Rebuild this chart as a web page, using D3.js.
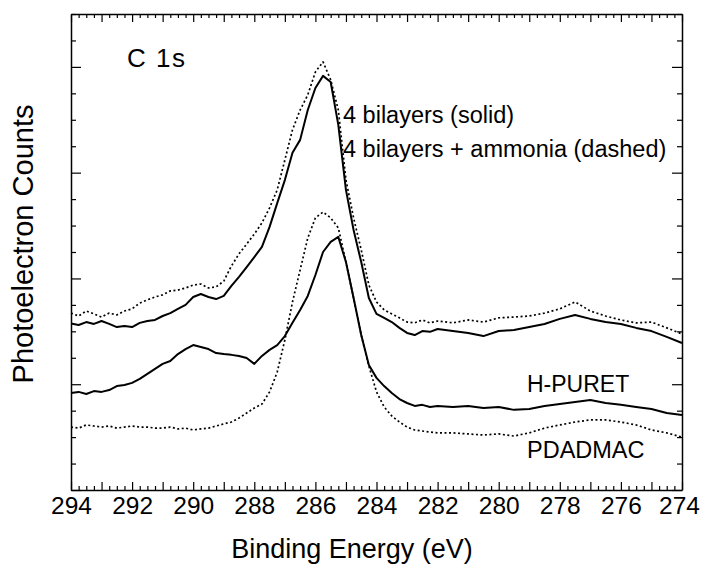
<!DOCTYPE html>
<html>
<head>
<meta charset="utf-8">
<script src="https://cdn.jsdelivr.net/npm/d3@7"></script>
<style>
  body { margin: 0; background: #fff; }
  svg text { font-family: "Liberation Sans", Arial, Helvetica, sans-serif; fill: #000; }
</style>
</head>
<body>
<div id="chart"></div>
<script>
// binding energy grid (eV)
const energy = [
    294, 293.75, 293.5, 293.25, 293, 292.75, 292.5, 292.25, 292, 291.75,
    291.5, 291.25, 291, 290.75, 290.5, 290.25, 290, 289.75, 289.5, 289.25,
    289, 288.75, 288.5, 288.25, 288, 287.75, 287.5, 287.25, 287, 286.75,
    286.5, 286.25, 286, 285.75, 285.5, 285.25, 285, 284.75, 284.5, 284.25,
    284, 283.75, 283.5, 283.25, 283, 282.75, 282.5, 282.25, 282, 281.5,
    281, 280.5, 280, 279.5, 279, 278.5, 278, 277.5, 277, 276.5,
    276, 275.5, 275, 274.5, 274
];

// 4 bilayers (solid)
const bilayers = [
    6.30, 6.24, 6.35, 6.28, 6.39, 6.28, 6.16, 6.20, 6.16, 6.32,
    6.39, 6.43, 6.58, 6.69, 6.85, 7.00, 7.30, 7.41, 7.30, 7.22,
    7.34, 7.72, 8.06, 8.43, 8.81, 9.19, 9.95, 10.85, 11.72, 12.75,
    13.24, 14.37, 15.20, 15.66, 15.43, 13.81, 11.35, 9.83, 8.62, 7.26,
    6.66, 6.51, 6.35, 6.13, 5.94, 5.86, 6.01, 5.98, 6.09, 6.01,
    5.94, 5.82, 6.01, 6.05, 6.16, 6.28, 6.47, 6.62, 6.47, 6.35,
    6.28, 6.13, 6.01, 5.79, 5.56
];

// 4 bilayers + ammonia (dashed)
const bilayersAmmonia = [
    6.69, 6.58, 6.77, 6.66, 6.54, 6.69, 6.62, 6.77, 6.85, 7.07,
    7.19, 7.30, 7.38, 7.53, 7.56, 7.64, 7.75, 7.79, 7.64, 7.68,
    7.90, 8.47, 8.93, 9.30, 9.68, 10.10, 10.67, 11.35, 12.48, 13.62,
    14.37, 14.94, 15.81, 16.19, 15.51, 14.37, 11.73, 10.29, 9.08, 7.75,
    7.11, 6.81, 6.66, 6.51, 6.35, 6.32, 6.43, 6.32, 6.39, 6.32,
    6.43, 6.35, 6.51, 6.54, 6.58, 6.69, 6.85, 7.11, 6.77, 6.58,
    6.43, 6.32, 6.35, 6.13, 5.90
];

// H-PURET (solid)
const hPuret = [
    3.67, 3.71, 3.63, 3.74, 3.71, 3.78, 3.93, 3.97, 4.05, 4.20,
    4.39, 4.58, 4.77, 4.88, 5.14, 5.33, 5.48, 5.41, 5.33, 5.18,
    5.14, 5.11, 5.07, 4.99, 4.77, 5.07, 5.30, 5.48, 5.82, 6.32,
    6.81, 7.34, 8.13, 9.00, 9.38, 9.57, 8.62, 7.26, 5.86, 4.73,
    4.24, 3.93, 3.67, 3.44, 3.29, 3.18, 3.22, 3.14, 3.18, 3.14,
    3.18, 3.10, 3.14, 3.03, 3.06, 3.18, 3.25, 3.33, 3.40, 3.29,
    3.22, 3.14, 3.06, 2.91, 2.84
];

// PDADMAC (dashed)
const pdadmac = [
    2.38, 2.34, 2.46, 2.42, 2.38, 2.42, 2.34, 2.38, 2.42, 2.38,
    2.38, 2.34, 2.34, 2.38, 2.31, 2.34, 2.27, 2.31, 2.34, 2.42,
    2.50, 2.57, 2.72, 2.91, 3.10, 3.25, 3.71, 4.46, 5.67, 7.11,
    8.32, 9.53, 10.29, 10.51, 10.29, 9.91, 8.62, 7.26, 5.86, 4.69,
    3.71, 3.14, 2.80, 2.57, 2.38, 2.27, 2.23, 2.19, 2.16, 2.16,
    2.12, 2.08, 2.12, 2.04, 2.16, 2.34, 2.46, 2.57, 2.65, 2.65,
    2.57, 2.46, 2.27, 2.16, 2.00
];

const xTickLabels = [294, 292, 290, 288, 286, 284, 282, 280, 278, 276, 274];

const series = [
    { values: bilayers, dash: null },
    { values: bilayersAmmonia, dash: '2,2.5' },
    { values: hPuret, dash: null },
    { values: pdadmac, dash: '2,2.5' }
];

const width = 701;
const height = 566;
const marginTop = 14;
const marginRight = 19;
const marginBottom = 76;
const marginLeft = 71;

const svg = d3.select('#chart')
    .append('svg')
    .attr('width', width)
    .attr('height', height);

const x = d3.scaleLinear()
    .domain([294, 274])
    .range([marginLeft, width - marginRight]);

const y = d3.scaleLinear()
    .domain([0, 18])
    .range([height - marginBottom, marginTop]);

const xMajor = d3.range(274, 295, 1);
const xMinor = d3.range(274, 294.01, 0.25).filter(d => d % 1 !== 0);
const yMinor = d3.range(0, 19).filter(d => d % 4 !== 0);
const yMajor = d3.range(0, 19, 4);

function styleAxis(g) {
    g.select('.domain').attr('stroke', '#000').attr('stroke-width', 1.5);
    g.selectAll('.tick line').attr('stroke', '#000').attr('stroke-width', 1.2);
}

// bottom axis with labels
svg.append('g')
    .attr('transform', `translate(0, ${y(0)})`)
    .call(d3.axisBottom(x)
        .tickValues(xMajor)
        .tickSizeInner(-8)
        .tickSizeOuter(0)
        .tickPadding(6)
        .tickFormat(d => xTickLabels.includes(d) ? d : ''))
    .call(styleAxis)
    .call(g => g.selectAll('text')
        .attr('font-size', 24.5)
        .attr('dy', '0.74em')
        .attr('dx', d => d === 274 ? -3 : 0));

svg.append('g')
    .attr('transform', `translate(0, ${y(0)})`)
    .call(d3.axisBottom(x).tickValues(xMinor).tickSize(-4).tickFormat(''))
    .call(styleAxis)
    .call(g => g.select('.domain').remove());

// top axis
svg.append('g')
    .attr('transform', `translate(0, ${y(18)})`)
    .call(d3.axisTop(x).tickValues(xMajor).tickSizeInner(-8).tickSizeOuter(0).tickFormat(''))
    .call(styleAxis);

svg.append('g')
    .attr('transform', `translate(0, ${y(18)})`)
    .call(d3.axisTop(x).tickValues(xMinor).tickSize(-4).tickFormat(''))
    .call(styleAxis)
    .call(g => g.select('.domain').remove());

// left + right axes
svg.append('g')
    .attr('transform', `translate(${x(294)}, 0)`)
    .call(d3.axisLeft(y).tickValues(yMajor).tickSizeInner(-10).tickSizeOuter(0).tickFormat(''))
    .call(styleAxis);

svg.append('g')
    .attr('transform', `translate(${x(294)}, 0)`)
    .call(d3.axisLeft(y).tickValues(yMinor).tickSize(-5).tickFormat(''))
    .call(styleAxis)
    .call(g => g.select('.domain').remove());

svg.append('g')
    .attr('transform', `translate(${x(274)}, 0)`)
    .call(d3.axisRight(y).tickValues(yMajor).tickSizeInner(-10).tickSizeOuter(0).tickFormat(''))
    .call(styleAxis);

svg.append('g')
    .attr('transform', `translate(${x(274)}, 0)`)
    .call(d3.axisRight(y).tickValues(yMinor).tickSize(-5).tickFormat(''))
    .call(styleAxis)
    .call(g => g.select('.domain').remove());

// spectra
const line = d3.line()
    .x((d, i) => x(energy[i]))
    .y(d => y(d))
    .curve(d3.curveLinear);

svg.append('g')
    .selectAll('path')
    .data(series)
    .join('path')
        .attr('d', d => line(d.values))
        .attr('fill', 'none')
        .attr('stroke', '#000')
        .attr('stroke-width', d => d.dash ? 1.7 : 2)
        .attr('stroke-dasharray', d => d.dash)
        .attr('stroke-linejoin', 'round');

// labels
svg.append('text')
    .attr('x', 127)
    .attr('y', 67)
    .attr('font-size', 26)
    .attr('letter-spacing', 1.5)
    .text('C 1s');

svg.append('text')
    .attr('x', 343)
    .attr('y', 123)
    .attr('font-size', 23.5)
    .text('4 bilayers (solid)');

svg.append('text')
    .attr('x', 343)
    .attr('y', 157)
    .attr('font-size', 23.5)
    .text('4 bilayers + ammonia (dashed)');

svg.append('text')
    .attr('x', 527)
    .attr('y', 392)
    .attr('font-size', 23)
    .text('H-PURET');

svg.append('text')
    .attr('x', 527)
    .attr('y', 458)
    .attr('font-size', 23.5)
    .text('PDADMAC');

// axis titles
svg.append('text')
    .attr('x', 352)
    .attr('y', 558)
    .attr('text-anchor', 'middle')
    .attr('font-size', 27)
    .text('Binding Energy (eV)');

svg.append('text')
    .attr('transform', `translate(33, 244) rotate(-90)`)
    .attr('text-anchor', 'middle')
    .attr('font-size', 29)
    .text('Photoelectron Counts');
</script>
</body>
</html>
